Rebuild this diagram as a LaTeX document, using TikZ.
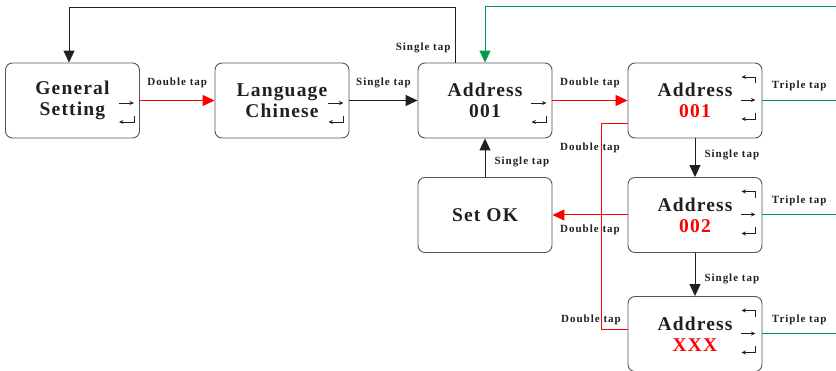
\documentclass[tikz,border=0pt]{standalone}
\usepackage{fontspec}
\setmainfont{Liberation Serif}
\newfontfamily\boxfont{Liberation Serif}[LetterSpace=6]
\newfontfamily\tapfont{Liberation Serif}[LetterSpace=9]
\usetikzlibrary{arrows.meta, positioning, calc}
\definecolor{tapgreen}{RGB}{0,155,72}
\definecolor{boxgray}{RGB}{85,85,85}
\definecolor{inkblack}{RGB}{35,31,32}

\begin{document}
\begin{tikzpicture}[x=1pt, y=-1pt,
    % menu boxes
    menubox/.style={draw=boxgray, line width=0.9pt, rounded corners=7pt,
        minimum width=134pt, minimum height=75pt, align=center, text=inkblack,
        font=\boxfont\bfseries\fontsize{19.5}{21}\selectfont},
    taplabel/.style={font=\tapfont\bfseries\fontsize{11}{12}\selectfont, text=inkblack, inner sep=1pt},
    flow/.style={line width=1pt, draw=inkblack, -{Triangle[length=12pt,width=11pt]}},
    redflow/.style={flow, draw=red, -{Triangle[length=12pt,width=11pt,fill=red]}},
    greenflow/.style={flow, draw=tapgreen, -{Triangle[length=12pt,width=11pt,fill=tapgreen]}},
    redline/.style={line width=1pt, draw=red},
    greenline/.style={line width=1pt, draw=tapgreen},
    icon/.style={line width=0.8pt, draw=inkblack, -{Stealth[length=4.5pt,width=4pt]}},
    % two small key icons
    icontwo/.pic={
        \draw[icon] (-21,2.5) -- (-6,2.5);
        \draw[icon] (-6,16) -- (-6,21.5) -- (-21,21.5);
    },
    % three small key icons
    iconthree/.pic={
        \draw[icon] (-7,-17) -- (-7,-23.5) -- (-21,-23.5);
        \draw[icon] (-21,-0.5) -- (-7,-0.5);
        \draw[icon] (-7,12.5) -- (-7,18.5) -- (-21,18.5);
    }
]
\useasboundingbox (0,0) rectangle (836,371);

% the boxes
\node[menubox] (gs) at (72.5,100.5) {General\\Setting};
\node[menubox] (lc) at (282,100.5) {Language\\Chinese};
\node[menubox] (aa) at (485,100.5) {Address\\001};
\node[menubox] (ab) at (695,100.5) {Address\\\textcolor{red}{001}};
\node[menubox] (ok) at (485,215) {Set OK};
\node[menubox] (ac) at (695,215) {Address\\\textcolor{red}{002}};
\node[menubox] (ax) at (695,334) {Address\\\textcolor{red}{XXX}};

% the key icons
\pic at (gs.east) {icontwo};
\pic at (lc.east) {icontwo};
\pic at (aa.east) {icontwo};
\pic at (ab.east) {iconthree};
\pic at (ac.east) {iconthree};
\pic at (ax.east) {iconthree};

% corner points of the long lines
\coordinate (topL) at (69,8);
\coordinate (topR) at (455,8);
\coordinate (gTop) at (836,7);
\coordinate (redA) at (601,124);
\coordinate (redB) at (601,330);
\coordinate (endB) at (836,100.5);
\coordinate (endC) at (836,215);
\coordinate (endX) at (836,334);

% top row
\draw[redflow] (gs) -- node[taplabel, midway, above=11pt] {Double tap} (lc);
\draw[flow] (lc) -- node[taplabel, midway, above=11pt] {Single tap} (aa);
\draw[redflow] (aa) -- node[taplabel, midway, above=11pt] {Double tap} (ab);
\draw[flow] (aa.north -| topR) -- node[taplabel, pos=0.27, left=3pt] {Single tap} (topR) -- (topL) -- (gs.north -| topL);
\draw[greenflow] (gTop) -| (aa.north);

% triple tap lines
\draw[greenline] (ab) -- node[taplabel, midway, above=8pt] {Triple tap} (endB);
\draw[greenline] (ac) -- node[taplabel, midway, above=8pt] {Triple tap} (endC);
\draw[greenline] (ax) -- node[taplabel, midway, above=8pt] {Triple tap} (endX);

% down the address column
\draw[flow] (ab) -- node[taplabel, pos=0.42, right=8pt] {Single tap} (ac);
\draw[flow] (ac) -- node[taplabel, pos=0.6, right=8pt] {Single tap} (ax);
\draw[flow] (ok) -- node[taplabel, pos=0.4, right=8pt] {Single tap} (aa);

% double tap back to set ok
\draw[redflow] (ac) -- node[taplabel, midway, below=8pt] {Double tap} (ok);
\draw[redline] (ab.west |- redA) -- (redA) -- node[taplabel, pos=0.117, xshift=-11pt] {Double tap}
    node[taplabel, pos=0.951, xshift=-10pt] {Double tap} (redB) -- (ax.west |- redB);

\end{tikzpicture}
\end{document}
